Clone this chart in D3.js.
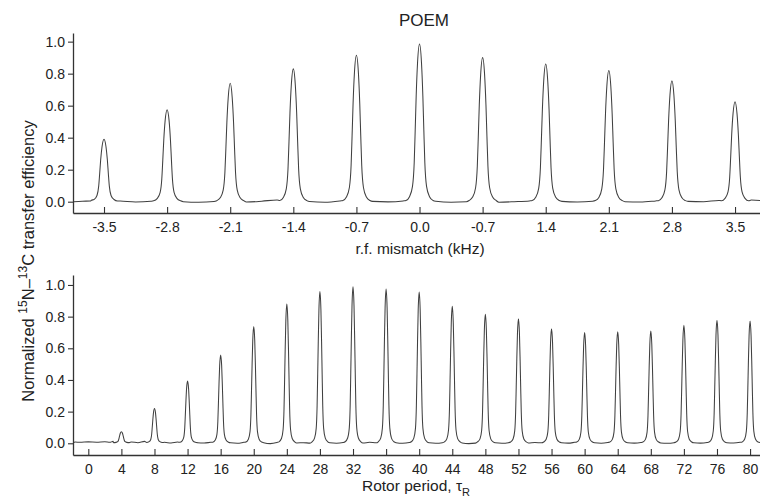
<!DOCTYPE html>
<html>
<head>
<meta charset="utf-8">
<script src="https://cdn.jsdelivr.net/npm/d3@7/dist/d3.min.js"></script>
<style>
  html, body { margin: 0; padding: 0; background: #fff; }
  svg { display: block; font-family: "Liberation Sans", Arial, Helvetica, sans-serif; }
</style>
</head>
<body>
<svg id="chart" width="760" height="502"></svg>
<script>
// ---------- DATA ----------
const titleText = "POEM";
const yTicks = [0.0, 0.2, 0.4, 0.6, 0.8, 1.0];

// top panel: r.f. mismatch (kHz)
const topTickValues = [-3.5, -2.8, -2.1, -1.4, -0.7, 0.0, 0.7, 1.4, 2.1, 2.8, 3.5];
const topTickLabels = ["-3.5", "-2.8", "-2.1", "-1.4", "-0.7", "0.0", "-0.7", "1.4", "2.1", "2.8", "3.5"];
const topPeakPos = [-3.5, -2.8, -2.1, -1.4, -0.7, 0.0, 0.7, 1.4, 2.1, 2.8, 3.5];
const topPeakHeight = [0.39, 0.575, 0.74, 0.83, 0.915, 0.985, 0.90, 0.86, 0.82, 0.755, 0.625];
const topProfileOffset = [0.0, 0.022, 0.037, 0.048, 0.059, 0.078, 0.111, 0.15];
const topProfileFrac = [1.0, 0.88, 0.67, 0.45, 0.245, 0.095, 0.03, 0.006];
const topBaseX = [-3.84, -3.74, -3.64, -3.32, -3.15, -2.98, -2.62, -2.45, -2.28, -1.92, -1.75, -1.58,
                  -1.22, -1.05, -0.88, -0.52, -0.35, -0.18, 0.18, 0.35, 0.52, 0.88, 1.05, 1.22,
                  1.58, 1.75, 1.92, 2.28, 2.45, 2.62, 2.98, 3.15, 3.32, 3.68, 3.78];
const topBaseY = [0.0, 0.003, 0.009, 0.004, -0.002, 0.003, 0.0, -0.004, 0.001, -0.002, 0.003, 0.011,
                  0.001, -0.004, 0.005, 0.002, -0.001, 0.005, 0.003, -0.003, 0.0, -0.003, 0.0, 0.005,
                  0.002, -0.002, 0.003, 0.0, -0.002, 0.005, 0.002, 0.0, 0.008, 0.01, 0.008];

// bottom panel: rotor period
const botTickValues = [0, 4, 8, 12, 16, 20, 24, 28, 32, 36, 40, 44, 48, 52, 56, 60, 64, 68, 72, 76, 80];
const botPeakPos = [4, 8, 12, 16, 20, 24, 28, 32, 36, 40, 44, 48, 52, 56, 60, 64, 68, 72, 76, 80];
const botPeakHeight = [0.073, 0.22, 0.393, 0.558, 0.737, 0.88, 0.958, 0.989, 0.975, 0.956,
                       0.865, 0.815, 0.787, 0.724, 0.699, 0.705, 0.709, 0.745, 0.777, 0.773];
const botProfileOffset = [0.0, 0.12, 0.2, 0.27, 0.34, 0.45, 0.65, 0.95];
const botProfileFrac = [1.0, 0.88, 0.67, 0.45, 0.245, 0.095, 0.03, 0.006];
const botBaseX = [-1.85, -1.6, -1.0, 0.0, 1.0, 2.0, 2.6, 3.0,
                  5.2, 6.0, 6.8, 9.2, 10.0, 10.8, 13.2, 14.0, 14.8, 17.2, 18.0, 18.8,
                  21.2, 22.0, 22.8, 25.2, 26.0, 26.8, 29.2, 30.0, 30.8, 33.2, 34.0, 34.8,
                  37.2, 38.0, 38.8, 41.2, 42.0, 42.8, 45.2, 46.0, 46.8, 49.2, 50.0, 50.8,
                  53.2, 54.0, 54.8, 57.2, 58.0, 58.8, 61.2, 62.0, 62.8, 65.2, 66.0, 66.8,
                  69.2, 70.0, 70.8, 73.2, 74.0, 74.8, 77.2, 78.0, 78.8, 81.3];
const botBaseY = [0.0, 0.008, 0.006, 0.009, 0.007, 0.01, 0.006, 0.012,
                  0.008, 0.004, 0.012, 0.006, 0.002, 0.008, 0.004, 0.002, 0.006, 0.003, 0.0, 0.006,
                  0.004, -0.002, 0.005, 0.002, 0.004, 0.001, 0.003, 0.0, 0.005, 0.002, 0.006, 0.003,
                  0.004, 0.0, 0.005, 0.003, 0.0, 0.004, 0.002, -0.002, 0.001, 0.003, 0.0, 0.004,
                  0.002, 0.005, 0.003, 0.004, 0.001, 0.006, 0.003, 0.0, 0.005, 0.003, 0.001, 0.005,
                  0.002, 0.0, 0.004, 0.003, 0.001, 0.005, 0.004, 0.002, 0.006, 0.004];

// ---------- LAYOUT ----------
const svg = d3.select("#chart");
const axisColor = "#333";
const textColor = "#222";
const lineColor = "#404040";

function buildTrace(peakPos, peakH, profOff, profFrac, baseX, baseY) {
  const pts = baseX.map((x, i) => [x, baseY[i]]);
  const b0 = d3.mean(baseY);
  peakPos.forEach((p, i) => {
    const h = peakH[i];
    profOff.forEach((o, j) => {
      const y = profFrac[j] * h + (1 - profFrac[j]) * b0;
      if (o === 0) pts.push([p, y]);
      else { pts.push([p - o, y]); pts.push([p + o, y]); }
    });
  });
  pts.sort((a, b) => a[0] - b[0]);
  return pts;
}

function panel(cfg) {
  const g = svg.append("g");
  const x = d3.scaleLinear().domain(cfg.xDomain).range([cfg.left, cfg.right]);
  const y = d3.scaleLinear().domain(cfg.yDomain).range([cfg.bottom, cfg.top]);

  const clipId = "clip" + cfg.id;
  svg.append("clipPath").attr("id", clipId)
    .append("rect").attr("x", cfg.left).attr("y", cfg.top - 5)
    .attr("width", cfg.right - cfg.left).attr("height", cfg.bottom - cfg.top + 5);

  const trace = buildTrace(cfg.peakPos, cfg.peakH, cfg.profOff, cfg.profFrac, cfg.baseX, cfg.baseY);
  g.append("path")
    .datum(trace)
    .attr("clip-path", `url(#${clipId})`)
    .attr("fill", "none")
    .attr("stroke", lineColor)
    .attr("stroke-width", 1.05)
    .attr("stroke-linejoin", "round")
    .attr("d", d3.line().x(d => x(d[0])).y(d => y(d[1])).curve(d3.curveMonotoneX));

  const xAxis = d3.axisBottom(x)
    .tickValues(cfg.tickValues)
    .tickFormat((d, i) => cfg.tickLabels[i])
    .tickSizeInner(-6)
    .tickSizeOuter(0)
    .tickPadding(9);
  const xg = g.append("g").attr("transform", `translate(0,${cfg.bottom})`).call(xAxis);

  const yAxis = d3.axisLeft(y)
    .tickValues(yTicks)
    .tickFormat(d3.format(".1f"))
    .tickSizeInner(5)
    .tickSizeOuter(0)
    .tickPadding(3);
  const yg = g.append("g").attr("transform", `translate(${cfg.left},0)`).call(yAxis);

  [xg, yg].forEach(a => {
    a.selectAll("path.domain").attr("stroke", axisColor).attr("stroke-width", 1.3);
    a.selectAll(".tick line").attr("stroke", axisColor).attr("stroke-width", 1.1);
    a.selectAll(".tick text").attr("fill", textColor).style("font-size", "14px")
      .style("font-family", "'Liberation Sans', Arial, sans-serif");
  });
  return { x, y, g };
}

const topPanel = panel({
  id: "top", left: 73, right: 760, top: 33, bottom: 213,
  xDomain: [-3.844, 3.777], yDomain: [-0.0706, 1.054],
  tickValues: topTickValues, tickLabels: topTickLabels,
  peakPos: topPeakPos, peakH: topPeakHeight,
  profOff: topProfileOffset, profFrac: topProfileFrac,
  baseX: topBaseX, baseY: topBaseY
});

const botPanel = panel({
  id: "bot", left: 73, right: 760, top: 275, bottom: 455,
  xDomain: [-1.85, 81.2], yDomain: [-0.074, 1.063],
  tickValues: botTickValues, tickLabels: botTickValues.map(String),
  peakPos: botPeakPos, peakH: botPeakHeight,
  profOff: botProfileOffset, profFrac: botProfileFrac,
  baseX: botBaseX, baseY: botBaseY
});

// title
svg.append("text")
  .attr("x", 424).attr("y", 26)
  .attr("text-anchor", "middle")
  .attr("fill", textColor)
  .style("font-size", "17px")
  .text(titleText);

// x labels
svg.append("text")
  .attr("x", 420).attr("y", 254)
  .attr("text-anchor", "middle")
  .attr("fill", textColor)
  .style("font-size", "15.5px")
  .text("r.f. mismatch (kHz)");

const xl2 = svg.append("text")
  .attr("x", 416).attr("y", 491)
  .attr("text-anchor", "middle")
  .attr("fill", textColor)
  .style("font-size", "15.5px");
xl2.append("tspan").text("Rotor period, τ");
xl2.append("tspan").attr("dy", 5).style("font-size", "11px").text("R");

// y label
const yl = svg.append("text")
  .attr("transform", "translate(34,261) rotate(-90)")
  .attr("text-anchor", "middle")
  .attr("fill", textColor)
  .style("font-size", "16.5px");
yl.append("tspan").text("Normalized ");
yl.append("tspan").attr("dy", -7).style("font-size", "12px").text("15");
yl.append("tspan").attr("dy", 7).text("N–");
yl.append("tspan").attr("dy", -7).style("font-size", "12px").text("13");
yl.append("tspan").attr("dy", 7).text("C transfer efficiency");
</script>
</body>
</html>
